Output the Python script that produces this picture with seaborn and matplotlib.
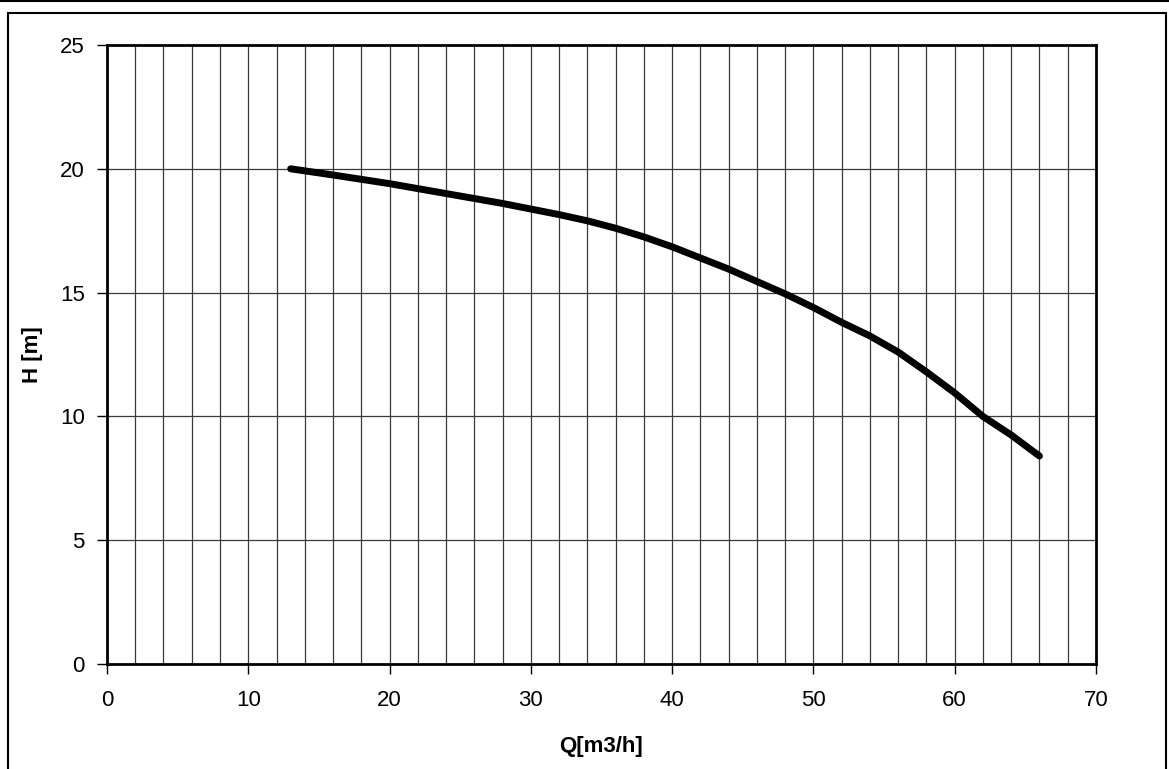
import pandas as pd
import matplotlib
matplotlib.use("Agg")
import matplotlib.pyplot as plt
import seaborn as sns
from matplotlib.patches import Rectangle
from matplotlib.lines import Line2D

# pump curve
flow = [13, 16, 20, 24, 28, 32, 34, 36, 38, 40, 42, 44, 46, 48, 50, 52, 54, 56, 58, 60, 62, 64, 66]
head = [20.0, 19.75, 19.4, 19.0, 18.6, 18.15, 17.9, 17.6, 17.25, 16.85, 16.4, 15.95, 15.45,
        14.95, 14.4, 13.8, 13.25, 12.6, 11.8, 10.95, 10.0, 9.25, 8.4]
x_ticks = [0, 10, 20, 30, 40, 50, 60, 70]
y_ticks = [0, 5, 10, 15, 20, 25]

df = pd.DataFrame({"Q": flow, "H": head})

sns.set_style("ticks")
plt.rcParams["font.family"] = ["Liberation Sans", "DejaVu Sans"]

fig = plt.figure(figsize=(11.69, 7.69), dpi=100)
ax = fig.add_axes([0.0915, 0.1365, 0.846, 0.805])

# grid: vertical every 2, horizontal every 5
for q in range(2, 70, 2):
    ax.axvline(q, color="#3a3a3a", linewidth=0.9, zorder=1)
for h in y_ticks[1:-1]:
    ax.axhline(h, color="#3a3a3a", linewidth=0.9, zorder=1)

sns.lineplot(data=df, x="Q", y="H", color="black", linewidth=5,
             solid_capstyle="round", ax=ax, zorder=3)

ax.set_xlim(0, 70)
ax.set_ylim(0, 25)
ax.set_xticks(x_ticks)
ax.set_yticks(y_ticks)
ax.tick_params(direction="out", length=7, width=1, labelsize=16, colors="black")
ax.tick_params(axis="x", pad=12)
ax.tick_params(axis="y", pad=9)
for s in ax.spines.values():
    s.set_linewidth(2)
    s.set_color("black")
ax.set_xlabel("Q[m3/h]", fontsize=16, fontweight="bold", labelpad=18, color="black")
ax.set_ylabel("H [m]", fontsize=16, fontweight="bold", labelpad=12, color="black")

# outer frame of the sheet
fig.patches.append(Rectangle((8 / 1169, -0.05), 1158 / 1169, 1.05 - 13 / 769,
                             transform=fig.transFigure, fill=False,
                             edgecolor="black", linewidth=1.5))
fig.lines.append(Line2D([0, 1], [1 - 1 / 769, 1 - 1 / 769], transform=fig.transFigure,
                        color="black", linewidth=1.5))

fig.savefig("out.png", dpi=100)
